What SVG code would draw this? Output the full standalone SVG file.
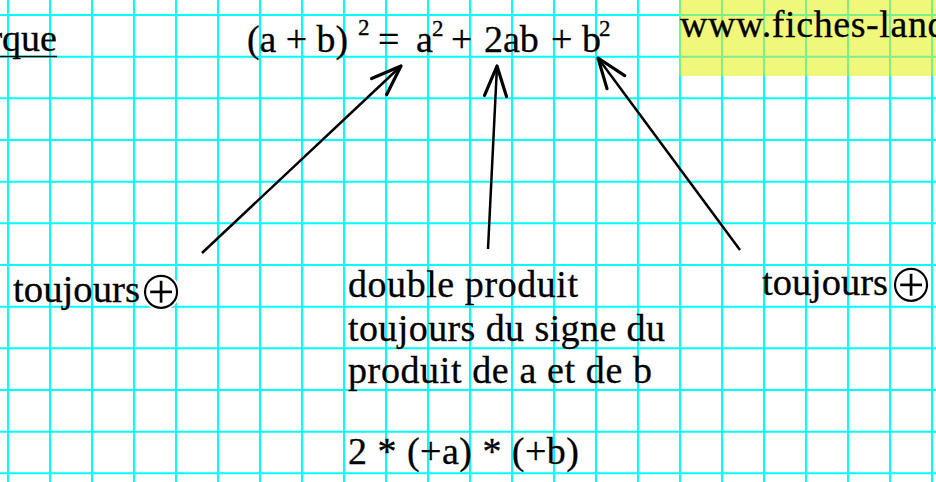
<svg xmlns="http://www.w3.org/2000/svg" width="936" height="482" viewBox="0 0 936 482">
<style>
.grid line{stroke:#00FFFF;stroke-width:2}
.ygrid line{stroke:#7DEE8A;stroke-width:2}
text{font-family:"Liberation Serif","Times New Roman",serif;fill:#000;font-size:38px;stroke:#000;stroke-width:0.3}
.sup{font-size:23px}
.sym{font-family:"DejaVu Sans",sans-serif;font-size:55px;text-anchor:middle;stroke:#fff;stroke-width:1.8}
.arrow{stroke:#000;stroke-width:2.5;fill:none;marker-end:url(#head)}
</style>
<defs>
<marker id="head" markerUnits="userSpaceOnUse" viewBox="-36 -15 40 30" refX="0" refY="0" markerWidth="40" markerHeight="30" orient="auto" overflow="visible">
<path d="M-30,-11 L0,0 L-30,11" fill="none" stroke="#000" stroke-width="3.2" stroke-linecap="round" stroke-linejoin="round"/>
</marker>
</defs>
<rect width="936" height="482" fill="#fff"/>
<g class="grid">
<line x1="8" y1="0" x2="8" y2="482"/><line x1="50" y1="0" x2="50" y2="482"/><line x1="92" y1="0" x2="92" y2="482"/><line x1="134" y1="0" x2="134" y2="482"/><line x1="176" y1="0" x2="176" y2="482"/><line x1="218" y1="0" x2="218" y2="482"/><line x1="260" y1="0" x2="260" y2="482"/><line x1="302" y1="0" x2="302" y2="482"/><line x1="344" y1="0" x2="344" y2="482"/><line x1="386" y1="0" x2="386" y2="482"/><line x1="428" y1="0" x2="428" y2="482"/><line x1="470" y1="0" x2="470" y2="482"/><line x1="512" y1="0" x2="512" y2="482"/><line x1="554" y1="0" x2="554" y2="482"/><line x1="596" y1="0" x2="596" y2="482"/><line x1="638" y1="0" x2="638" y2="482"/><line x1="680" y1="0" x2="680" y2="482"/><line x1="722" y1="0" x2="722" y2="482"/><line x1="764" y1="0" x2="764" y2="482"/><line x1="806" y1="0" x2="806" y2="482"/><line x1="848" y1="0" x2="848" y2="482"/><line x1="890" y1="0" x2="890" y2="482"/><line x1="932" y1="0" x2="932" y2="482"/>
<line x1="0" y1="15" x2="936" y2="15"/><line x1="0" y1="56.7" x2="936" y2="56.7"/><line x1="0" y1="98.3" x2="936" y2="98.3"/><line x1="0" y1="140" x2="936" y2="140"/><line x1="0" y1="181.7" x2="936" y2="181.7"/><line x1="0" y1="223.3" x2="936" y2="223.3"/><line x1="0" y1="265" x2="936" y2="265"/><line x1="0" y1="306.7" x2="936" y2="306.7"/><line x1="0" y1="348.3" x2="936" y2="348.3"/><line x1="0" y1="390" x2="936" y2="390"/><line x1="0" y1="431.7" x2="936" y2="431.7"/><line x1="0" y1="473.3" x2="936" y2="473.3"/>
</g>
<g id="site">
<rect x="679" y="0" width="257" height="76" fill="#F0F87C"/>
<g class="ygrid">
<line x1="680" y1="0" x2="680" y2="76"/><line x1="722" y1="0" x2="722" y2="76"/><line x1="764" y1="0" x2="764" y2="76"/><line x1="806" y1="0" x2="806" y2="76"/><line x1="848" y1="0" x2="848" y2="76"/><line x1="890" y1="0" x2="890" y2="76"/><line x1="932" y1="0" x2="932" y2="76"/>
<line x1="680" y1="15" x2="936" y2="15"/><line x1="680" y1="56.7" x2="936" y2="56.7"/>
</g>
<text x="680" y="37" style="letter-spacing:0.6px">www.fiches-land</text>
</g>
<g id="title">
<text x="57" y="51" text-anchor="end">rque</text>
<line x1="0" y1="56.5" x2="57" y2="56.5" stroke="#000" stroke-width="1.6"/>
</g>
<g id="equation">
<text x="247" y="52" textLength="101" lengthAdjust="spacingAndGlyphs">(a + b)</text>
<text class="sup" x="358" y="35">2</text>
<text x="378" y="52">=</text>
<text x="416" y="52">a</text>
<text class="sup" x="432" y="36">2</text>
<text x="451" y="52">+</text>
<text x="484" y="52">2ab</text>
<text x="551" y="52">+</text>
<text x="582" y="52">b</text>
<text class="sup" x="599" y="36">2</text>
</g>
<g id="connectors">
<line class="arrow" x1="202" y1="253" x2="401" y2="66"/>
<line class="arrow" x1="488" y1="249" x2="497" y2="66"/>
<line class="arrow" x1="740" y1="250" x2="598" y2="58"/>
</g>
<g id="left-label">
<text x="13" y="302" textLength="127" lengthAdjust="spacingAndGlyphs">toujours</text>
<text class="sym" x="161" y="309">⊕</text>
</g>
<g id="middle-label">
<text x="348" y="297" textLength="230" lengthAdjust="spacing">double produit</text>
<text x="348" y="341" textLength="317" lengthAdjust="spacing">toujours du signe du</text>
<text x="348" y="383" textLength="304" lengthAdjust="spacing">produit de a et de b</text>
<text x="348" y="464" textLength="231" lengthAdjust="spacing">2 * (+a) * (+b)</text>
</g>
<g id="right-label">
<text x="762" y="295" textLength="126" lengthAdjust="spacingAndGlyphs">toujours</text>
<text class="sym" x="911" y="302">⊕</text>
</g>
</svg>
